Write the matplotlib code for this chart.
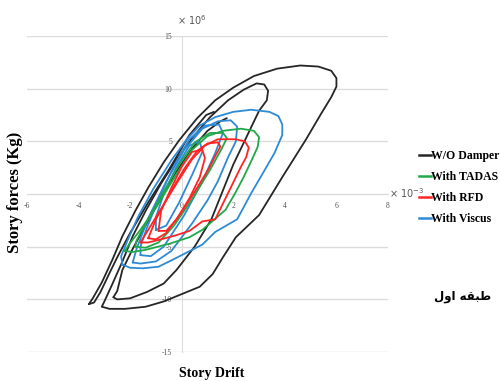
import matplotlib
matplotlib.use("Agg")
import matplotlib.pyplot as plt
from matplotlib.lines import Line2D

# drift in 1e-3, force in 1e6 kg
black_loop1 = [(-3.6, -10.45), (-3.45, -9.9), (-3.1, -8.4), (-2.7, -6.3), (-2.3, -4.0), (-1.8, -1.6),
               (-1.3, 0.6), (-0.7, 3.0), (-0.1, 5.1), (0.6, 7.2), (1.3, 8.9), (2.0, 10.1), (2.8, 11.2),
               (3.7, 11.9), (4.6, 12.2), (5.3, 12.1), (5.8, 11.7), (6.0, 11.0), (6.0, 10.2), (5.8, 9.2),
               (5.4, 7.6), (4.8, 5.1), (3.9, 1.6), (3.0, -2.0), (2.1, -4.1), (1.6, -6.0), (1.2, -7.6),
               (0.7, -8.8), (0.0, -9.5), (-0.7, -10.2), (-1.4, -10.7), (-2.2, -10.9), (-2.8, -10.9),
               (-3.1, -10.7), (-3.0, -10.2), (-2.7, -8.6), (-2.3, -6.4), (-1.9, -4.0), (-1.4, -1.6),
               (-0.8, 1.0), (-0.2, 3.3), (0.4, 5.3), (1.1, 7.3), (1.8, 8.9), (2.4, 9.9), (2.9, 10.5),
               (3.2, 10.4), (3.35, 9.8), (3.3, 8.9), (3.0, 7.9), (2.0, 2.8), (1.15, -2.4), (0.5, -5.0),
               (-0.2, -7.2), (-0.7, -8.5), (-1.35, -9.3), (-2.0, -9.9), (-2.5, -10.0), (-2.65, -9.8)]
black_loop2 = [(-2.65, -9.8), (-2.5, -9.2), (-2.3, -7.2), (-1.9, -5.2), (-1.5, -3.4), (-0.9, -0.8),
               (-0.3, 1.8), (0.4, 4.3), (1.0, 6.0), (1.5, 6.9), (1.75, 7.2)]
black_loop3 = [(1.25, 7.8), (0.95, 7.5), (0.3, 5.6), (-0.5, 2.3), (-1.3, -0.8), (-2.0, -3.7),
               (-2.5, -6.0), (-2.8, -7.5), (-3.15, -9.3), (-3.4, -10.3), (-3.6, -10.45)]

blue_loop1 = [(-2.3, -6.7), (-2.0, -7.0), (-1.5, -7.05), (-0.9, -6.9), (-0.4, -6.3), (0.0, -5.8),
              (0.8, -4.8), (1.3, -3.6), (2.15, -2.4), (2.7, 0.1), (3.2, 2.2), (3.6, 3.9), (3.9, 5.6),
              (3.9, 6.6), (3.75, 7.4), (3.4, 7.8), (2.7, 8.0), (2.0, 7.8), (1.3, 7.3), (0.7, 6.5),
              (0.2, 5.2), (-0.4, 3.2), (-1.1, 0.5), (-1.7, -2.2), (-2.1, -4.4), (-2.35, -5.9), (-2.3, -6.7)]
blue_loop2 = [(-1.9, -6.5), (-1.6, -6.6), (-1.0, -6.4), (-0.4, -5.4), (0.4, -2.8), (1.0, -0.6),
              (1.4, 1.2), (1.8, 3.5), (2.1, 5.0), (2.15, 6.4), (1.9, 7.0), (1.4, 6.9), (0.8, 6.2),
              (0.1, 4.2), (-0.6, 1.2), (-1.3, -2.3), (-1.75, -5.2), (-1.9, -6.5)]
blue_loop3 = [(-1.6, -5.8), (-1.2, -5.9), (-0.7, -5.0), (0.1, -2.0), (0.8, 1.2), (1.3, 3.9),
              (1.6, 5.8), (1.45, 6.6), (0.9, 6.5), (0.3, 5.2), (-0.3, 2.7), (-0.9, -0.5),
              (-1.35, -3.2), (-1.6, -5.0), (-1.6, -5.8)]
blue_loop4 = [(-1.0, -3.4), (-0.6, -3.0), (-0.1, -0.8), (0.4, 1.8), (0.8, 4.0), (0.7, 5.0),
              (0.3, 4.6), (-0.2, 2.6), (-0.7, 0.0), (-1.0, -2.2), (-1.0, -3.4)]

green_loop1 = [(-2.2, -5.4), (-1.9, -5.5), (-1.4, -5.3), (-0.45, -4.7), (0.3, -4.1), (0.8, -3.4),
               (1.7, -1.5), (2.1, 0.2), (2.4, 1.6), (2.75, 3.4), (2.95, 4.5), (3.0, 5.4), (2.8, 6.0),
               (2.3, 6.2), (1.6, 6.0), (1.0, 5.5), (0.4, 4.2), (-0.3, 1.5), (-1.0, -1.3), (-1.6, -3.4),
               (-2.05, -4.8), (-2.2, -5.4)]
green_loop2 = [(-1.8, -5.0), (-1.4, -5.1), (-0.9, -4.6), (-0.3, -3.0), (0.4, -0.5), (1.1, 2.3),
               (1.55, 4.3), (1.75, 5.3), (1.6, 5.8), (1.1, 5.8), (0.5, 4.9), (-0.1, 2.8), (-0.8, -0.2),
               (-1.4, -2.8), (-1.75, -4.4), (-1.8, -5.0)]

red_loop1 = [(-1.6, -4.6), (-1.3, -4.6), (-0.8, -4.3), (-0.2, -3.9), (0.3, -3.5), (0.8, -2.6),
             (1.3, -2.4), (1.9, 0.6), (2.3, 2.6), (2.5, 3.5), (2.6, 4.4), (2.45, 5.0), (2.1, 5.2),
             (1.4, 5.2), (0.9, 4.6), (0.4, 3.3), (-0.2, 1.0), (-0.8, -1.4), (-1.3, -3.4), (-1.6, -4.6)]
red_loop2 = [(-1.3, -4.2), (-1.0, -4.3), (-0.6, -3.7), (0.0, -1.7), (0.6, 0.6), (1.05, 2.4),
             (1.3, 3.6), (1.5, 4.5), (1.4, 4.9), (1.0, 4.8), (0.6, 4.1), (0.1, 2.4), (-0.5, -0.1),
             (-1.0, -2.4), (-1.3, -4.2)]
red_loop3 = [(-0.9, -3.5), (-0.6, -3.5), (-0.2, -2.4), (0.3, -0.4), (0.7, 1.6), (0.9, 3.4),
             (0.8, 4.2), (0.4, 4.0), (0.0, 2.6), (-0.4, 0.6), (-0.8, -1.6), (-0.9, -3.5)]

x_ticks = [-6, -4, -2, 0, 2, 4, 6, 8]
y_ticks = [-15, -10, -5, 0, 5, 10, 15]
series_names = ["W/O Damper", "With TADAS", "With RFD", "With Viscus"]
series_colors = ["#262626", "#21a84a", "#ff2424", "#2f8ad6"]
persian_label = "\ufedd\ufeed\ufe8d \ufeea\ufed8\ufe92\ufec3"  # طبقه اول in shaped visual order

fig = plt.figure(figsize=(5.0, 3.81), dpi=100)
ax = fig.add_axes([0.054, 0.076, 0.722, 0.8295])

series_loops = [
    [black_loop1, black_loop2, black_loop3],
    [blue_loop1, blue_loop2, blue_loop3, blue_loop4],
    [green_loop1, green_loop2],
    [red_loop1, red_loop2, red_loop3],
]
loop_colors = [series_colors[0], series_colors[3], series_colors[1], series_colors[2]]
for loops, col in zip(series_loops, loop_colors):
    for lp in loops:
        xs = [p[0] for p in lp]
        ys = [p[1] for p in lp]
        ax.plot(xs, ys, color=col, lw=1.3, solid_joinstyle="round", solid_capstyle="round", zorder=3)

ax.set_xlim(-6, 8)
ax.set_ylim(-15, 15)
ax.set_xticks(x_ticks)
ax.set_yticks(y_ticks)
ax.set_xticklabels([str(v) for v in x_ticks])
ax.set_yticklabels(["" if v == 0 else str(v) for v in y_ticks])
ax.yaxis.grid(True, color="#dcdcdc", lw=1.0, zorder=0)
ax.set_axisbelow(True)
for s in ["top", "right"]:
    ax.spines[s].set_visible(False)
ax.spines["left"].set_position(("data", 0))
ax.spines["bottom"].set_position(("data", 0))
ax.spines["left"].set_color("#dcdcdc")
ax.spines["bottom"].set_color("#dcdcdc")
ax.tick_params(length=0, labelsize=5.5, colors="#555555")
ax.tick_params(axis="y", pad=7)
ax.tick_params(axis="x", pad=6)
for lab in ax.get_xticklabels() + ax.get_yticklabels():
    lab.set_family("Liberation Serif")

fig.text(0.354, 0.947, "× 10$^{6}$", fontsize=7, color="#555555", va="center", ha="left")
fig.text(0.778, 0.493, "× 10$^{-3}$", fontsize=7, color="#555555", va="center", ha="left")

fig.text(0.03, 0.495, "Story forces (Kg)", fontsize=12, fontweight="bold", family="Liberation Serif",
         rotation=90, ha="center", va="center")
fig.text(0.424, 0.02, "Story Drift", fontsize=10, fontweight="bold",
         family="Liberation Serif", ha="center", va="center")

handles = [Line2D([0], [0], color=c, lw=1.8) for c in series_colors]
fig.legend(handles, series_names, loc="upper left", bbox_to_anchor=(0.838, 0.607),
           frameon=False, handlelength=1.0, handletextpad=0.05, labelspacing=0.78,
           borderaxespad=0, borderpad=0,
           prop={"family": "Liberation Serif", "weight": "bold", "size": 8.5})

fig.text(0.925, 0.222, persian_label, fontsize=8.5, fontweight="bold",
         family="DejaVu Sans", ha="center", va="center")

fig.savefig("out.png", dpi=100)
